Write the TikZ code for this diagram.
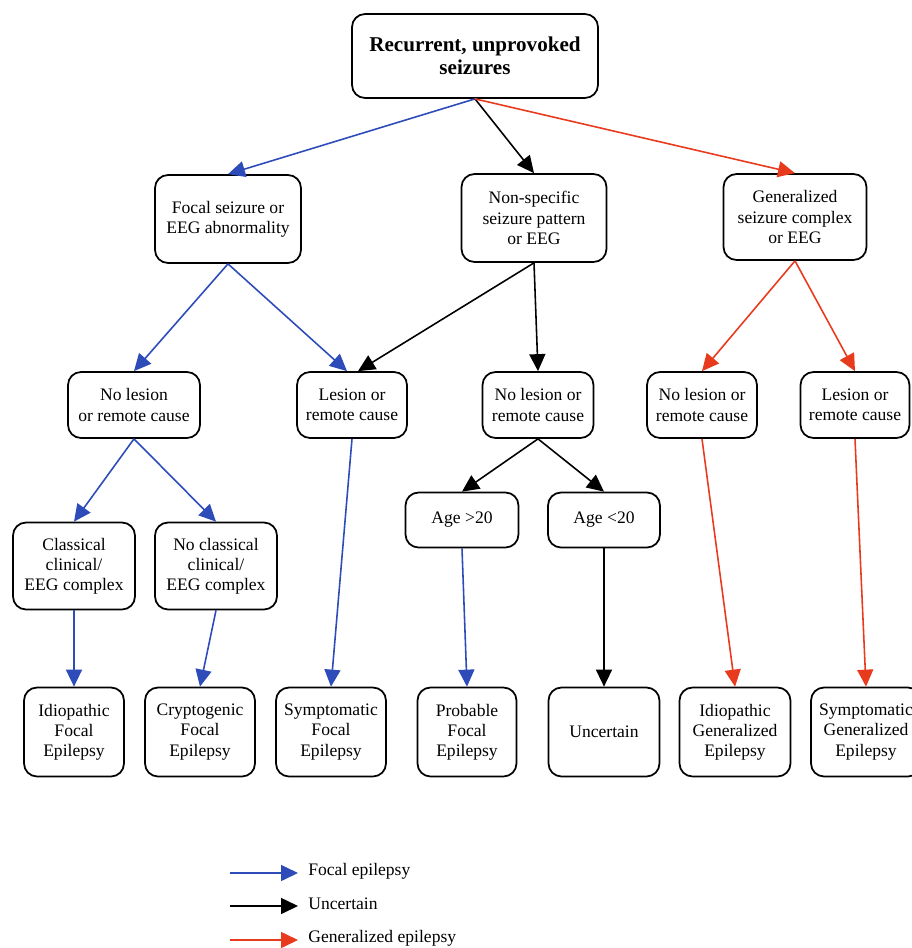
\documentclass[tikz,border=0pt]{standalone}
\usepackage{fontspec}
\setmainfont{Liberation Serif}
\usepackage{xcolor}
\usepackage{tikz}
\usetikzlibrary{arrows.meta}
\usetikzlibrary{positioning}

\definecolor{focalblue}{RGB}{45,75,185}
\definecolor{genred}{RGB}{232,58,28}

\begin{document}
\begin{tikzpicture}[
    x=0.02cm, y=-0.02cm,
    box/.style={rectangle, draw, rounded corners=0.26cm, line width=1pt, align=center, inner sep=2pt, font=\fontsize{10}{11.5}\selectfont},
    label/.style={rectangle, draw=none, anchor=west, inner sep=0pt, font=\fontsize{10}{11.5}\selectfont},
    tip/.style={-{Triangle[length=0.34cm, width=0.32cm]}, line width=0.9pt},
    focal/.style={tip, draw=focalblue},
    unsure/.style={tip, draw=black},
    general/.style={tip, draw=genred},
  ]
  \clip (0,0) rectangle (912,948);

  % Root
  \node[box, minimum width=4.92cm, minimum height=1.68cm, font=\bfseries\fontsize{12}{13}\selectfont] (root) at (475,56) {Recurrent, unprovoked\\seizures};

  % First split
  \node[box, minimum width=2.92cm, minimum height=1.76cm] (F) at (228,219) {Focal seizure or\\EEG abnormality};
  \node[box, minimum width=2.9cm, minimum height=1.76cm] (N) at (534,218) {Non-specific\\seizure pattern\\or EEG};
  \node[box, minimum width=2.86cm, minimum height=1.72cm] (G) at (795,217) {Generalized\\seizure complex\\or EEG};

  % Lesion or not
  \node[box, minimum width=2.64cm, minimum height=1.32cm] (Fno) at (134,405) {No lesion\\or remote cause};
  \node[box, minimum width=2.2cm, minimum height=1.32cm] (Fles) at (352,405) {Lesion or\\remote cause};
  \node[box, minimum width=2.22cm, minimum height=1.32cm] (Nno) at (538,405) {No lesion or\\remote cause};
  \node[box, minimum width=2.2cm, minimum height=1.32cm] (Gno) at (702,405) {No lesion or\\remote cause};
  \node[box, minimum width=2.18cm, minimum height=1.32cm] (Gles) at (855,405) {Lesion or\\remote cause};

  % Third row
  \node[box, minimum width=2.44cm, minimum height=1.74cm] (C) at (74,566) {Classical\\clinical/\\EEG complex};
  \node[box, minimum width=2.44cm, minimum height=1.74cm] (NC) at (216,566) {No classical\\clinical/\\EEG complex};
  \node[box, minimum width=2.26cm, minimum height=1.1cm] (old) at (462,520) {Age >20};
  \node[box, minimum width=2.24cm, minimum height=1.1cm] (young) at (604,520) {Age <20};

  % Outcomes
  \node[box, minimum width=2.0cm, minimum height=1.78cm] (IF) at (74,732) {Idiopathic\\Focal\\Epilepsy};
  \node[box, minimum width=2.2cm, minimum height=1.78cm] (CF) at (200,732) {Cryptogenic\\Focal\\Epilepsy};
  \node[box, minimum width=2.2cm, minimum height=1.78cm] (SF) at (331,732) {Symptomatic\\Focal\\Epilepsy};
  \node[box, minimum width=1.98cm, minimum height=1.78cm] (PF) at (467,732) {Probable\\Focal\\Epilepsy};
  \node[box, minimum width=2.22cm, minimum height=1.78cm] (U) at (604,732) {Uncertain};
  \node[box, minimum width=2.22cm, minimum height=1.78cm] (IG) at (735,732) {Idiopathic\\Generalized\\Epilepsy};
  \node[box, minimum width=2.2cm, minimum height=1.78cm] (SG) at (866,732) {Symptomatic\\Generalized\\Epilepsy};

  % Arrows from root
  \draw[focal] (root.south) -- (F.north);
  \draw[unsure] (root.south) -- (N.north);
  \draw[general] (root.south) -- (G.north);

  % Arrows to lesion row
  \draw[focal] (F.south) -- (Fno.north);
  \draw[focal] (F.south) -- ([xshift=-0.1cm]Fles.north);
  \draw[unsure] (N.south) -- ([xshift=0.12cm]Fles.north);
  \draw[unsure] (N.south) -- (Nno.north);
  \draw[general] (G.south) -- (Gno.north);
  \draw[general] (G.south) -- (Gles.north);

  % Arrows to third row
  \draw[focal] (Fno.south) -- (C.north);
  \draw[focal] (Fno.south) -- (NC.north);
  \draw[unsure] (Nno.south) -- (old.north);
  \draw[unsure] (Nno.south) -- (young.north);

  % Arrows to outcomes
  \draw[focal] (C.south) -- (IF.north);
  \draw[focal] (NC.south) -- (CF.north);
  \draw[focal] (Fles.south) -- (SF.north);
  \draw[focal] (old.south) -- (PF.north);
  \draw[unsure] (young.south) -- (U.north);
  \draw[general] (Gno.south) -- (IG.north);
  \draw[general] (Gles.south) -- (SG.north);

  % Legend
  \coordinate (k1) at (230,873);
  \coordinate (k2) at (230,906);
  \coordinate (k3) at (230,940);
  \node[label] (l1) at (308,871) {Focal epilepsy};
  \node[label] (l2) at (308,904) {Uncertain};
  \node[label] (l3) at (308,938) {Generalized epilepsy};
  \draw[focal] (k1) -- ([xshift=-0.2cm]k1 -| l1.west);
  \draw[unsure] (k2) -- ([xshift=-0.2cm]k2 -| l2.west);
  \draw[general] (k3) -- ([xshift=-0.2cm]k3 -| l3.west);

\end{tikzpicture}
\end{document}
